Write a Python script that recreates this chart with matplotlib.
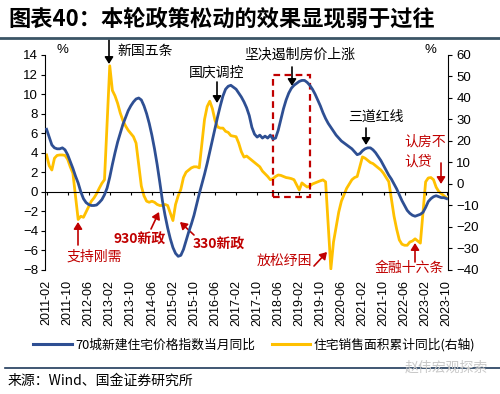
import numpy as np
import pandas as pd
import matplotlib
matplotlib.use("Agg")
import matplotlib.pyplot as plt
from matplotlib.lines import Line2D
from matplotlib.patches import Rectangle

plt.rcParams['font.family'] = ['Liberation Sans', 'Noto Sans CJK SC', 'DejaVu Sans']

# ---------------- data ----------------
dates = pd.date_range("2011-02-01", "2023-10-01", freq="MS")
tick_labels = ["2011-02", "2011-10", "2012-06", "2013-02", "2013-10", "2014-06", "2015-02",
               "2015-10", "2016-06", "2017-02", "2017-10", "2018-06", "2019-02", "2019-10",
               "2020-06", "2021-02", "2021-10", "2022-06", "2023-02", "2023-10"]

# 70-city new home price index, YoY (%), monthly, left axis
blue_2011 = [6.4, 5.6, 4.8, 4.5, 4.4, 4.4, 4.5, 4.3, 3.8, 3.1, 2.4]
blue_2012 = [1.6, 0.9, 0.0, -0.7, -1.1, -1.3, -1.4, -1.4, -1.35, -1.1, -0.8, -0.3]
blue_2013 = [0.4, 1.5, 2.8, 4.0, 5.1, 6.0, 6.9, 7.6, 8.3, 8.8, 9.2, 9.5]
blue_2014 = [9.6, 9.4, 8.8, 8.0, 7.0, 5.8, 4.4, 2.8, 1.0, -0.9, -2.4, -3.7]
blue_2015 = [-4.8, -5.7, -6.3, -6.6, -6.5, -5.9, -5.0, -4.1, -3.3, -2.4, -1.3, -0.2]
blue_2016 = [0.8, 1.8, 2.9, 4.1, 5.3, 6.5, 7.7, 8.8, 9.8, 10.5, 10.8, 10.9]
blue_2017 = [10.7, 10.5, 10.1, 9.7, 9.2, 8.6, 7.8, 6.6, 5.9, 5.6, 5.8, 5.5]
blue_2018 = [5.7, 5.5, 5.8, 5.4, 5.5, 6.3, 7.4, 8.5, 9.4, 10.1, 10.6, 10.9]
blue_2019 = [11.1, 11.3, 11.4, 11.4, 11.2, 10.9, 10.5, 10.0, 9.4, 8.8, 8.1, 7.5]
blue_2020 = [7.0, 6.6, 6.2, 5.8, 5.5, 5.2, 5.0, 4.8, 4.6, 4.4, 4.1, 3.8]
blue_2021 = [3.9, 4.2, 4.4, 4.5, 4.5, 4.3, 4.0, 3.6, 3.2, 2.7, 2.2, 1.7]
blue_2022 = [1.3, 0.8, 0.3, -0.3, -0.9, -1.4, -1.9, -2.2, -2.4, -2.5, -2.4, -2.3]
blue_2023 = [-2.1, -1.6, -1.0, -0.7, -0.5, -0.4, -0.5, -0.6, -0.6, -0.7]

# residential sales area, cumulative YoY (%), Feb..Dec each year (no January release), right axis
yellow_2011 = [13.5, 8.5, 6.5, 12.0, 13.3, 13.5, 13.5, 13.3, 11.5, 8.0, 5.0]
yellow_2012 = [-16.5, -15.0, -15.5, -13.0, -10.5, -8.0, -6.5, -4.5, -2.0, 0.3, 2.0]
yellow_2013 = [55.0, 43.5, 41.0, 37.5, 33.0, 29.5, 27.0, 25.0, 23.5, 22.0, 19.0]
yellow_2014 = [-1.0, -5.5, -8.0, -8.5, -8.0, -8.5, -9.5, -10.0, -10.0, -9.5, -10.0]
yellow_2015 = [-17.0, -9.5, -5.5, -2.5, 3.0, 5.5, 6.5, 7.5, 8.0, 8.0, 7.5]
yellow_2016 = [30.0, 36.0, 38.5, 35.0, 29.5, 26.5, 26.0, 26.0, 24.5, 24.0, 22.5]
yellow_2017 = [22.0, 19.0, 15.0, 12.5, 13.0, 12.0, 11.0, 10.0, 9.0, 8.0, 6.0]
yellow_2018 = [3.5, 2.0, 2.5, 3.5, 4.2, 4.0, 3.5, 3.0, 2.8, 2.5, 2.0]
yellow_2019 = [-2.8, 0.5, -0.5, -1.4, -1.0, 0.0, 0.5, 1.0, 1.5, 1.9, 1.0]
yellow_2020 = [-39.5, -27.0, -20.0, -13.0, -8.0, -5.0, -2.0, 0.0, 2.0, 3.0, 3.5]
yellow_2021 = [12.6, 12.0, 11.0, 10.0, 9.5, 8.5, 7.5, 6.5, 5.0, 3.0, 1.1]
yellow_2022 = [-15.0, -21.0, -26.0, -28.0, -28.5, -28.5, -27.0, -26.5, -25.5, -26.5, -27.5]
yellow_2023 = [1.0, 2.8, 3.0, 2.0, -1.5, -3.5, -4.5, -5.5, -6.5]

blue = np.array(blue_2011 + blue_2012 + blue_2013 + blue_2014 + blue_2015 + blue_2016 + blue_2017
                + blue_2018 + blue_2019 + blue_2020 + blue_2021 + blue_2022 + blue_2023)
yellow = np.array(yellow_2011 + yellow_2012 + yellow_2013 + yellow_2014 + yellow_2015 + yellow_2016
                  + yellow_2017 + yellow_2018 + yellow_2019 + yellow_2020 + yellow_2021
                  + yellow_2022 + yellow_2023)

blue_name = "70城新建住宅价格指数当月同比"
yellow_name = "住宅销售面积累计同比(右轴)"

BLUE = "#2E4F93"
GOLD = "#FFC000"
RED = "#C00000"
CJK = ['Noto Sans CJK SC', 'DejaVu Sans']

# ---------------- figure ----------------
W, H = 500, 394
fig = plt.figure(figsize=(W / 100, H / 100), dpi=100)

def fx(px):
    return px / W

def fy(py):
    return 1 - py / H

ax = fig.add_axes([fx(45), fy(270), fx(448 - 45), (270 - 55) / H])
ax2 = ax.twinx()

idx = np.arange(len(dates))
yidx = idx[dates.month != 1]

ax.plot(idx, blue, color=BLUE, lw=2.0, zorder=3, solid_joinstyle='round')
ax2.plot(yidx, yellow, color=GOLD, lw=2.0, zorder=2, solid_joinstyle='round')
ax.set_zorder(ax2.get_zorder() + 1)
ax.patch.set_visible(False)

ax.set_xlim(-0.6, len(dates) - 0.5)
ax.set_ylim(-8, 14)
ax2.set_ylim(-40, 60)
ax.set_yticks(np.arange(-8, 15, 2))
ax2.set_yticks(np.arange(-40, 61, 10))

label_pos = [list(dates.strftime("%Y-%m")).index(t) for t in tick_labels]
ax.set_xticks(label_pos)
ax.set_xticklabels(tick_labels, rotation=90, fontsize=9)
ax.tick_params(axis='x', length=0, pad=7)
ax.tick_params(axis='y', labelsize=9.5, length=3, width=0.8, direction='out', pad=2)
ax2.tick_params(axis='y', labelsize=9.5, length=3, width=0.8, direction='out', pad=3)

for a in (ax, ax2):
    a.spines['top'].set_visible(False)
    a.spines['bottom'].set_visible(False)
ax.spines['right'].set_visible(False)
ax.spines['left'].set_linewidth(0.8)
ax2.spines['left'].set_visible(False)
ax2.spines['right'].set_linewidth(0.8)

# zero line with small tick marks
ax.axhline(0, color='black', lw=0.8, zorder=1)
ax.vlines(label_pos, -0.3, 0, color='black', lw=0.8, zorder=1)

# % units
fig.text(fx(62), fy(50), "%", fontsize=9.5, ha='center', va='center')
fig.text(fx(430), fy(50), "%", fontsize=9.5, ha='center', va='center')

# ---------------- annotations ----------------
def arrow(x0, y0, x1, y1, color=RED):
    fig.add_artist(matplotlib.patches.FancyArrowPatch(
        (fx(x0), fy(y0)), (fx(x1), fy(y1)), transform=fig.transFigure,
        arrowstyle='-|>,head_length=4,head_width=2.5', color=color, lw=1.2,
        shrinkA=0, shrinkB=0))

def label(x, y, s, color='black', size=10, ha='left', weight='normal'):
    fig.text(fx(x), fy(y), s, color=color, fontsize=size, ha=ha, va='center',
             family=CJK, weight=weight)

label(117, 51, "新国五条")
arrow(109, 40, 109, 64, color='black')
label(189, 73, "国庆调控")
arrow(217, 82, 217, 103, color='black')
label(244, 55, "坚决遏制房价上涨")
arrow(292, 67, 292, 86, color='black')
label(348, 117, "三道红线")
arrow(366, 128, 366, 145, color='black')

# red dashed box
fig.add_artist(Rectangle((fx(273), fy(197)), fx(310 - 273), (197 - 75) / H,
                         transform=fig.transFigure, fill=False, ec=RED, lw=1.6,
                         ls=(0, (3, 2))))

label(404, 142, "认房不", color=RED)
label(404, 162, "认贷", color=RED)
arrow(441, 163, 441, 184)

label(67, 257, "支持刚需", color=RED)
arrow(78, 245, 78, 222)
label(113, 240, "930新政", color=RED, weight='bold')
arrow(151, 229, 159, 212)
label(193, 245, "330新政", color=RED, weight='bold')
arrow(194, 235, 180, 222)
label(257, 261, "放松纾困", color=RED)
arrow(314, 266, 327, 252)
label(375, 268, "金融十六条", color=RED)
arrow(415, 262, 415, 243)

# ---------------- legend ----------------
handles = [Line2D([], [], color=BLUE, lw=2.2), Line2D([], [], color=GOLD, lw=2.2)]
leg = fig.legend(handles, [blue_name, yellow_name], loc='center',
                 bbox_to_anchor=(fx(254), fy(345)), ncol=2, frameon=False,
                 handlelength=3.0, handletextpad=0.25, columnspacing=1.3,
                 prop={'family': CJK, 'size': 9.2})

# ---------------- title / source ----------------
fig.text(fx(8), fy(19), "图表40：本轮政策松动的效果显现弱于过往", fontsize=16,
         family=CJK, weight='bold', ha='left', va='center')
fig.add_artist(Line2D([0, 1], [fy(38), fy(38)], transform=fig.transFigure,
                      color="#3B5566", lw=2.0))
fig.add_artist(Line2D([fx(5), 1], [fy(368), fy(368)], transform=fig.transFigure,
                      color="#1F3A5A", lw=1.2))
fig.text(fx(8), fy(381), "来源：Wind、国金证券研究所", fontsize=10,
         family=CJK, ha='left', va='center')
fig.text(fx(488), fy(368), "赵伟宏观探索", fontsize=10, color="#C9C9C9",
         family=CJK, ha='right', va='center')

fig.savefig("out.png", dpi=100)
